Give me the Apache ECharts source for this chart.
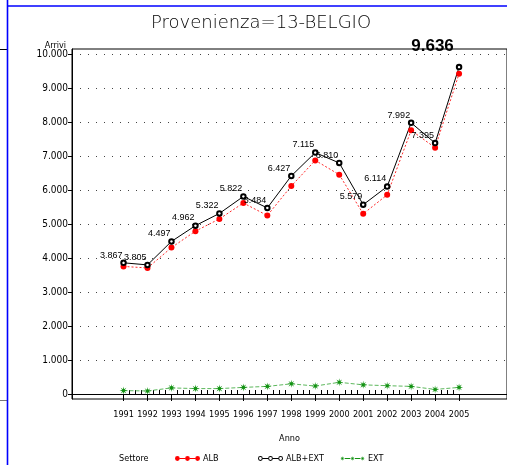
<!DOCTYPE html>
<html>
<head>
<meta charset="utf-8">
<title>Provenienza=13-BELGIO</title>
<script src="https://cdn.jsdelivr.net/npm/echarts@6/dist/echarts.min.js"></script>
<style>
  html, body { margin: 0; padding: 0; background: #fff; }
  #chart { width: 507px; height: 465px; }
</style>
</head>
<body>
<div id="chart"></div>
<script>
// dati
var anni = [1991, 1992, 1993, 1994, 1995, 1996, 1997, 1998, 1999, 2000, 2001, 2002, 2003, 2004, 2005];
var alb = [3760, 3715, 4315, 4800, 5160, 5630, 5260, 6130, 6885, 6465, 5310, 5870, 7770, 7260, 9440];
var albExt = [3867, 3805, 4497, 4962, 5322, 5822, 5484, 6427, 7115, 6810, 5579, 6114, 7992, 7395, 9636];
var ext = [100, 90, 180, 160, 160, 195, 225, 300, 235, 345, 270, 245, 225, 135, 195];

// tacche degli assi
var yTicks = [0, 1000, 2000, 3000, 4000, 5000, 6000, 7000, 8000, 9000, 10000];
var xTicks = anni;

var yMinor = [];
for (var i = 0; i < yTicks.length - 1; i++) {
  for (var k = 1; k < 5; k++) yMinor.push(yTicks[i] + k * 200);
}
var xMinor = [];
for (var j = 0; j < xTicks.length - 1; j++) {
  for (var q = 1; q < 4; q++) xMinor.push(xTicks[j] + q * 0.25);
}

var FONT = 'DejaVu Sans Condensed';

function fmt(v) {
  return String(v).replace(/\B(?=(\d{3})+(?!\d))/g, '.');
}

function pairs(vals) {
  return anni.map(function (a, i) { return [a, vals[i]]; });
}

// simbolo stella (asterisco SAS)
function star(cx, cy, R, r) {
  var d = '';
  for (var n = 0; n < 16; n++) {
    var ang = n * Math.PI / 8;
    var rad = n % 2 === 0 ? R : r;
    var px = (cx + rad * Math.sin(ang)).toFixed(2);
    var py = (cy - rad * Math.cos(ang)).toFixed(2);
    d += (n === 0 ? 'M' : 'L') + px + ',' + py;
  }
  return d + 'Z';
}
function dot(cx, cy, r) {
  return 'M' + (cx - r) + ',' + cy + 'a' + r + ',' + r + ' 0 1,0 ' + (2 * r) + ',0a' + r + ',' + r + ' 0 1,0 ' + (-2 * r) + ',0Z';
}
function ring(cx, cy, r, r2) {
  return dot(cx, cy, r) + 'M' + (cx - r2) + ',' + cy + 'a' + r2 + ',' + r2 + ' 0 1,1 ' + (2 * r2) + ',0a' + r2 + ',' + r2 + ' 0 1,1 ' + (-2 * r2) + ',0Z';
}
var bars = 'M16,6.6h18v2.8h-18Z M50,6.6h18v2.8h-18Z';
var iconAlb = 'path://' + dot(8, 8, 8) + dot(42, 8, 8) + dot(76, 8, 8) + bars;
var iconTot = 'path://' + ring(8, 8, 8, 4.8) + ring(42, 8, 8, 4.8) + ring(76, 8, 8, 4.8) + bars;
var iconExt = 'path://' + star(8, 8, 8, 2.8) + star(42, 8, 8, 2.8) + star(76, 8, 8, 2.8) + bars;
var starSymbol = 'path://' + star(10, 10, 10, 3.5);

function legendAt(name, left, icon, color) {
  return {
    data: [{ name: name, icon: icon, itemStyle: { color: color, borderWidth: 0 } }],
    left: left,
    top: 449,
    itemWidth: 25,
    itemHeight: 5,
    selectedMode: false,
    textStyle: { fontFamily: FONT, fontSize: 9, color: '#000', padding: [0, 0, 0, -2] }
  };
}

var chart = echarts.init(document.getElementById('chart'));

chart.setOption({
  animation: false,
  backgroundColor: '#fff',
  title: {
    text: 'Provenienza=13-BELGIO',
    left: 256,
    top: 9,
    textAlign: 'center',
    textStyle: { fontFamily: 'DejaVu Sans', fontSize: 18, fontWeight: 200, color: '#000' }
  },
  grid: {
    left: 72,
    top: 49,
    right: -4,
    bottom: 66,
    show: true,
    borderColor: '#000',
    borderWidth: 1
  },
  legend: [
    legendAt('ALB', 170, iconAlb, '#ff0000'),
    legendAt('ALB+EXT', 253, iconTot, '#000'),
    legendAt('EXT', 335, iconExt, '#129212')
  ],
  graphic: [
    { type: 'line', shape: { x1: 7.5, y1: 0, x2: 7.5, y2: 465 }, style: { stroke: '#0000ff', lineWidth: 1.6 }, z: 10 },
    { type: 'line', shape: { x1: 7.5, y1: 6, x2: 507, y2: 6 }, style: { stroke: '#0000ff', lineWidth: 1.6 }, z: 10 },
    { type: 'line', shape: { x1: 0, y1: 49.5, x2: 7, y2: 49.5 }, style: { stroke: '#000', lineWidth: 1 } },
    { type: 'line', shape: { x1: 0, y1: 400.5, x2: 7, y2: 400.5 }, style: { stroke: '#777', lineWidth: 1 } },
    {
      type: 'text', left: 119, top: 454,
      style: { text: 'Settore', fontFamily: FONT, fontSize: 9, fill: '#000' }
    }
  ],
  xAxis: [
    {
      type: 'value',
      min: 1988.85,
      max: 2007,
      name: 'Anno',
      nameLocation: 'middle',
      nameGap: 35,
      nameTextStyle: { fontFamily: FONT, fontSize: 9, color: '#000' },
      axisLine: { lineStyle: { color: '#000', width: 1 } },
      axisTick: { customValues: xTicks, length: 7, lineStyle: { color: '#000' } },
      axisLabel: {
        customValues: xTicks,
        margin: 11,
        fontFamily: FONT, fontSize: 9, color: '#000',
        formatter: function (v) { return String(v); }
      },
      splitLine: { show: false }
    },
    {
      type: 'value',
      min: 1988.85,
      max: 2007,
      axisLine: { show: false },
      axisTick: { customValues: xMinor, length: 4, lineStyle: { color: '#000' } },
      axisLabel: { show: false },
      splitLine: { show: false }
    }
  ],
  yAxis: [
    {
      type: 'value',
      min: -147,
      max: 10168,
      splitNumber: 10,
      name: 'Arrivi',
      nameLocation: 'end',
      nameGap: 1,
      nameTextStyle: {
        fontFamily: FONT, fontSize: 9, color: '#000',
        align: 'right', verticalAlign: 'bottom', padding: [0, 6, -2, 0]
      },
      axisLine: { show: true, lineStyle: { color: '#000', width: 1 } },
      axisTick: { customValues: yTicks, length: 4, lineStyle: { color: '#000' } },
      axisLabel: {
        customValues: yTicks,
        margin: 4,
        fontFamily: FONT, fontSize: 10, color: '#000',
        formatter: function (v) { return fmt(v); }
      },
      splitLine: {
        show: true,
        customValues: yTicks,
        lineStyle: { color: '#444', type: [1, 7], width: 1 }
      }
    },
    {
      type: 'value',
      min: -147,
      max: 10168,
      axisLine: { show: false },
      axisTick: { customValues: yMinor, length: 2, lineStyle: { color: '#000' } },
      axisLabel: { show: false },
      splitLine: { show: false }
    }
  ],
  series: [
    {
      name: 'EXT',
      type: 'line',
      data: pairs(ext),
      symbol: starSymbol,
      symbolSize: 8,
      itemStyle: { color: '#129212' },
      lineStyle: { color: '#5db85d', width: 1, type: [4, 2] }
    },
    {
      name: 'ALB',
      type: 'line',
      data: pairs(alb),
      symbol: 'circle',
      symbolSize: 6,
      itemStyle: { color: '#ff0000' },
      lineStyle: { color: '#ff2a2a', width: 1, type: [2, 2] }
    },
    {
      name: 'ALB+EXT',
      type: 'line',
      data: pairs(albExt).map(function (p, i) {
        if (i === albExt.length - 1) {
          return {
            value: p,
            label: {
              position: [-2, -9],
              fontFamily: 'Liberation Sans',
              fontSize: 17,
              fontWeight: 'bold'
            }
          };
        }
        return p;
      }),
      symbol: 'emptyCircle',
      symbolSize: 4.5,
      itemStyle: { color: '#000', borderWidth: 1 },
      lineStyle: { color: '#000', width: 1 },
      label: {
        show: true,
        position: [2.25, 0],
        align: 'right',
        verticalAlign: 'bottom',
        fontFamily: 'Liberation Sans',
        fontSize: 9,
        color: '#000',
        formatter: function (p) { return fmt(p.value[1]); }
      },
      labelLayout: { hideOverlap: false }
    }
  ]
});
</script>
</body>
</html>
